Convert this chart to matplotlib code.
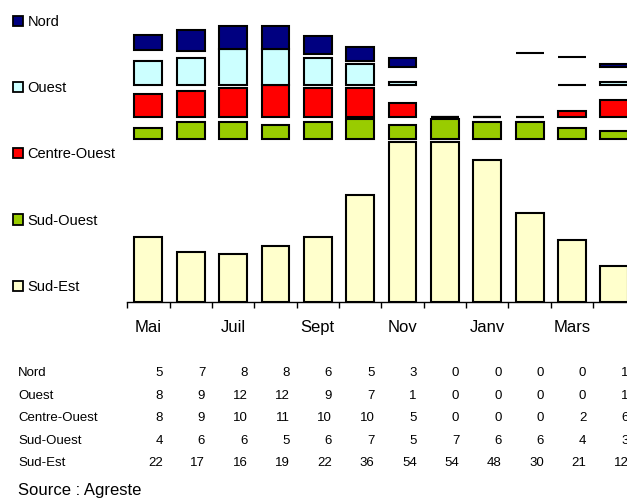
import matplotlib
matplotlib.use("Agg")
import matplotlib.pyplot as plt
import matplotlib.transforms as mtransforms
from matplotlib.patches import Patch

plt.rcParams['font.family'] = ['Liberation Sans', 'DejaVu Sans']

# données (nombre par région et par mois)
mois = ['Mai', 'Juin', 'Juil', 'Août', 'Sept', 'Oct', 'Nov', 'Déc', 'Janv', 'Févr', 'Mars', 'Avr']
nord = [5, 7, 8, 8, 6, 5, 3, 0, 0, 0, 0, 1]
ouest = [8, 9, 12, 12, 9, 7, 1, 0, 0, 0, 0, 1]
centre_ouest = [8, 9, 10, 11, 10, 10, 5, 0, 0, 0, 2, 6]
sud_ouest = [4, 6, 6, 5, 6, 7, 5, 7, 6, 6, 4, 3]
sud_est = [22, 17, 16, 19, 22, 36, 54, 54, 48, 30, 21, 12]

# séries invisibles qui séparent les régions
ecart1 = [33, 38, 39, 36, 33, 19, 1, 1, 7, 25, 34, 43]
ecart2 = [3.5, 1.5, 1.5, 2.5, 1.5, 0.5, 2.5, 0.5, 1.5, 1.5, 3.5, 4.5]
ecart3 = [3, 2, 1, 0, 1, 1, 6, 0, 0, 0, 9, 5]
ecart4 = [3.75, 2.6, 0, 0, 1.4, 1, 5.2, 0, 0, 21.8, 9.3, 5.2]

lignes = ['Nord', 'Ouest', 'Centre-Ouest', 'Sud-Ouest', 'Sud-Est']
couleurs = {'Nord': '#000080', 'Ouest': '#ccffff', 'Centre-Ouest': '#ff0000',
            'Sud-Ouest': '#99cc00', 'Sud-Est': '#ffffcc'}

W, H = 627, 498
fig = plt.figure(figsize=(W / 100, H / 100), dpi=100)
ax = fig.add_axes([127.3 / W, (H - 301.7) / H, 508.1 / W, 295 / H])

x = list(range(len(mois)))
pile = [('Sud-Est', sud_est), (None, ecart1), ('Sud-Ouest', sud_ouest), (None, ecart2),
        ('Centre-Ouest', centre_ouest), (None, ecart3), ('Ouest', ouest), (None, ecart4),
        ('Nord', nord)]
bas = [0] * len(mois)
for nom, valeurs in pile:
    if nom is not None:
        ax.bar(x, valeurs, bottom=bas, width=0.66, color=couleurs[nom],
               edgecolor='black', linewidth=1.5, zorder=2)
    bas = [b + v for b, v in zip(bas, valeurs)]

ax.set_xlim(-0.5, 11.5)
ax.set_ylim(0, 100)
for s in ['left', 'right', 'top']:
    ax.spines[s].set_visible(False)
ax.spines['bottom'].set_linewidth(1)
ax.set_yticks([])
ax.set_xticks([i - 0.5 for i in range(13)])
ax.set_xticklabels([])
ax.tick_params(axis='x', which='major', length=4, width=1, direction='out')
ax.set_xticks(x[::2], minor=True)
ax.set_xticklabels(mois[::2], minor=True, fontsize=12)
ax.tick_params(axis='x', which='minor', length=0, pad=13)

# légende à gauche
poignees = [Patch(facecolor=couleurs[n], edgecolor='black', linewidth=1.3) for n in lignes]
fig.legend(poignees, lignes, loc='upper left', bbox_to_anchor=(13 / W, 1 - 15 / H),
           frameon=False, fontsize=10.5, handlelength=0.7, handleheight=0.7,
           handletextpad=0.3, labelspacing=3.58, borderpad=0, borderaxespad=0)

# tableau des valeurs sous le graphique
tr = mtransforms.blended_transform_factory(ax.transData, fig.transFigure)
donnees = [nord, ouest, centre_ouest, sud_ouest, sud_est]
for k, (nom, valeurs) in enumerate(zip(lignes, donnees)):
    y = 1 - (376 + 22.6 * k) / H
    fig.text(18 / W, y, nom, fontsize=9.5, va='baseline', ha='left')
    for i, v in enumerate(valeurs):
        fig.text(i + 0.34, y, str(v), transform=tr, fontsize=9.5, va='baseline', ha='right')

fig.text(18 / W, 1 - 495 / H, 'Source : Agreste', fontsize=12, va='baseline', ha='left')

fig.savefig('out.png', dpi=100)
